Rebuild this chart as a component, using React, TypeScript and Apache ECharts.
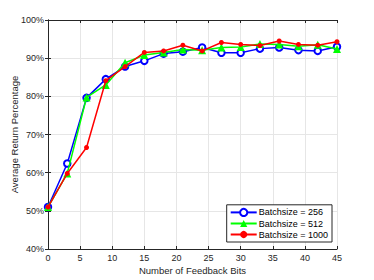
import React, { useEffect, useRef } from "react";
import * as echarts from "echarts";

const bits = [0, 3, 6, 9, 12, 15, 18, 21, 24, 27, 30, 33, 36, 39, 42, 45];
const batch256 = [51, 62.4, 79.6, 84.5, 87.8, 89.3, 91.2, 91.7, 92.8, 91.4, 91.4, 92.5, 92.8, 92.1, 91.9, 93.0];
const batch512 = [51, 59.8, 79.7, 83.0, 88.8, 90.8, 91.5, 92.3, 92.1, 92.8, 92.9, 93.7, 93.6, 93.1, 93.5, 92.4];
const batch1000 = [51, 59.8, 66.6, 84.1, 87.8, 91.5, 91.9, 93.4, 91.9, 94.1, 93.6, 93.3, 94.5, 93.6, 93.4, 94.3];
const seriesNames = ["Batchsize = 256", "Batchsize = 512", "Batchsize = 1000"];

export default function App() {
  const ref = useRef<HTMLDivElement>(null);
  useEffect(() => {
    if (!ref.current) return;
    const chart = echarts.init(ref.current, undefined, { renderer: "svg" });
    const font = "Liberation Sans, Arial, sans-serif";
    const axisLine = { show: true, lineStyle: { color: "#262626", width: 1 } };
    const tick = { show: true, inside: true, length: 3, lineStyle: { color: "#262626" } };
    const mk = (arr: number[]) => arr.map((v, i) => [bits[i], v]);
    chart.setOption({
      animation: false,
      backgroundColor: "#fff",
      grid: { left: 48, right: 37, top: 20, bottom: 31, containLabel: false, outerBoundsMode: "none" },
      legend: {
        orient: "vertical",
        right: 42,
        bottom: 38,
        backgroundColor: "#fff",
        borderColor: "#262626",
        borderWidth: 1,
        borderRadius: 0,
        padding: [3, 4, 3, 3],
        itemGap: 2,
        itemWidth: 26,
        itemHeight: 9,
        textStyle: { fontSize: 9, color: "#000", fontFamily: font, padding: [0, 0, 0, -3] },
        data: seriesNames,
      },
      xAxis: [
        {
          type: "value",
          min: 0,
          max: 45,
          interval: 5,
          position: "bottom",
          name: "Number of Feedback Bits",
          nameLocation: "middle",
          nameGap: 16,
          nameMoveOverlap: false,
          nameTextStyle: { fontSize: 9.5, color: "#262626", fontFamily: font },
          axisLine,
          axisTick: tick,
          axisLabel: { fontSize: 9, color: "#262626", fontFamily: font, margin: 4 },
          splitLine: { show: true, lineStyle: { color: "#e6e6e6", width: 1 } },
        },
        {
          type: "value",
          min: 0,
          max: 45,
          interval: 5,
          position: "top",
          axisLine,
          axisTick: tick,
          axisLabel: { show: false },
          splitLine: { show: false },
        },
      ],
      yAxis: [
        {
          type: "value",
          min: 40,
          max: 100,
          interval: 10,
          position: "left",
          name: "Average Return Percentage",
          nameLocation: "middle",
          nameGap: 29,
          nameMoveOverlap: false,
          nameTextStyle: { fontSize: 9.5, color: "#262626", fontFamily: font },
          axisLine,
          axisTick: tick,
          axisLabel: { fontSize: 9, color: "#262626", fontFamily: font, margin: 4, formatter: "{value}%" },
          splitLine: { show: true, lineStyle: { color: "#e6e6e6", width: 1 } },
        },
        {
          type: "value",
          min: 40,
          max: 100,
          interval: 10,
          position: "right",
          axisLine,
          axisTick: tick,
          axisLabel: { show: false },
          splitLine: { show: false },
        },
      ],
      series: [
        {
          name: seriesNames[0],
          type: "line",
          data: mk(batch256),
          symbol: "emptyCircle",
          symbolSize: 6.5,
          lineStyle: { color: "#0000ff", width: 1.5 },
          itemStyle: { color: "#0000ff", borderWidth: 1.3 },
          z: 3,
        },
        {
          name: seriesNames[1],
          type: "line",
          data: mk(batch512),
          symbol: "triangle",
          symbolSize: 8,
          lineStyle: { color: "#00ff00", width: 1.5 },
          itemStyle: { color: "#00ff00" },
          z: 4,
        },
        {
          name: seriesNames[2],
          type: "line",
          data: mk(batch1000),
          symbol: "circle",
          symbolSize: 5,
          lineStyle: { color: "#ff0000", width: 1.5 },
          itemStyle: { color: "#ff0000" },
          z: 5,
        },
      ],
    });
    return () => chart.dispose();
  }, []);
  return <div ref={ref} style={{ position: "absolute", left: 0, top: 0, width: 374, height: 280 }} />;
}
